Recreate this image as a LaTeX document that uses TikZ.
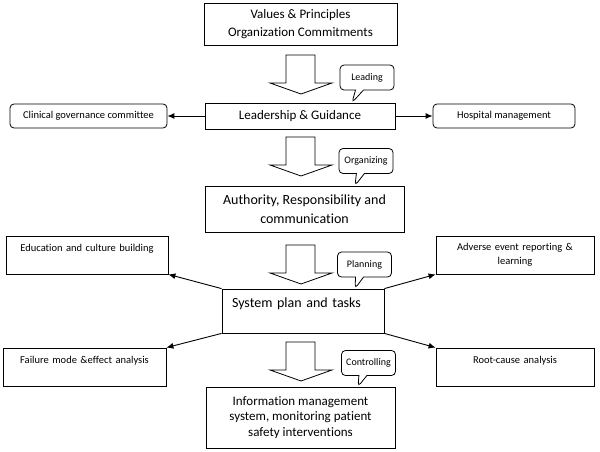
\documentclass[tikz,border=0pt]{standalone}
\usepackage{fontspec}
\setmainfont{Carlito}[Ligatures=CommonOff]
\usetikzlibrary{shapes.callouts,calc,arrows.meta}

\tikzset{
  box/.style={draw, line width=0.8pt, align=center, inner sep=2pt},
  sidebox/.style={box, font=\fontsize{10.5}{14}\selectfont, text width=#1, minimum height=38pt},
  tag/.style={draw, rectangle callout, rounded corners=4pt, callout pointer width=8pt,
    line width=0.8pt, fill=white, font=\fontsize{10}{12}\selectfont,
    minimum width=54pt, minimum height=25pt, inner sep=1pt},
  link/.style={-{Latex[length=7pt,width=6pt]}, line width=0.9pt},
  bigarrow/.style={draw, line width=0.8pt, fill=white}
}

\begin{document}
\begin{tikzpicture}[x=1pt,y=-1pt]
\useasboundingbox (0,0) rectangle (600,452);

% main column
\node[box, minimum width=193pt, minimum height=42pt, font=\fontsize{13}{18}\selectfont] (values) at (300.5,24) {Values \& Principles\\Organization Commitments};
\node[box, minimum width=190pt, minimum height=26pt, font=\fontsize{13}{16}\selectfont] (lead) at (300,116) {Leadership \& Guidance};
\node[box, minimum width=199pt, minimum height=46pt, font=\fontsize{14}{19}\selectfont] (auth) at (304.5,209) {Authority, Responsibility and\\communication};
\node[box, minimum width=162pt, minimum height=44pt, text width=142pt, inner xsep=10pt, align=left, font=\fontsize{14}{17}\selectfont] (plan) at (303,311) {System plan and tasks\\\mbox{}};
\node[box, minimum width=189pt, minimum height=61pt, font=\fontsize{13}{15.5}\selectfont] (info) at (300.5,417.5) {Information management\\system, monitoring patient\\safety interventions};

% side boxes
\node[box, rounded corners=4pt, minimum width=157pt, minimum height=24pt, font=\fontsize{10.5}{13}\selectfont] (clinical) at (88.5,116) {Clinical governance committee};
\node[box, rounded corners=4pt, minimum width=142pt, minimum height=24pt, font=\fontsize{10.5}{13}\selectfont] (hospital) at (504,116) {Hospital management};
\node[sidebox=158pt] (edu) at (87,255) {Education and culture building\\\mbox{}};
\node[sidebox=154pt] (adverse) at (515,255) {Adverse event reporting \&\\learning};
\node[sidebox=159pt] (failure) at (84.5,367) {Failure mode \&effect analysis\\\mbox{}};
\node[sidebox=154pt] (rootcause) at (515,367) {Root-cause analysis\\\mbox{}};

\draw[link] (lead.west) -- (clinical.east);
\draw[link] (lead.east) -- (hospital.west);
\draw[link] (plan.north west) -- (edu.south east);
\draw[link] (plan.north east) -- (adverse.south west);
\draw[link] (plan.south west) -- (failure.north east);
\draw[link] (plan.south east) -- (rootcause.north west);

% block arrows
\foreach \y in {55,137,245,342}
  \draw[bigarrow] (286,\y) -- (315,\y) -- (315,\y+28) -- (332,\y+28) -- (301,\y+39) -- (270,\y+28) -- (286,\y+28) -- cycle;

% callouts
\node[tag, callout absolute pointer={($(lead.north)+(52,0)$)}] (leading) at (367,77.5) {Leading};
\node[tag, callout absolute pointer={($(auth.north)+(50.5,0)$)}] (organizing) at (366,161) {Organizing};
\node[tag, callout absolute pointer={($(plan.north)+(52,0)$)}] (planning) at (364.5,264.5) {Planning};
\node[tag, callout absolute pointer={($(info.north)+(57.5,0)$)}] (controlling) at (368.5,363) {Controlling};

\end{tikzpicture}
\end{document}
